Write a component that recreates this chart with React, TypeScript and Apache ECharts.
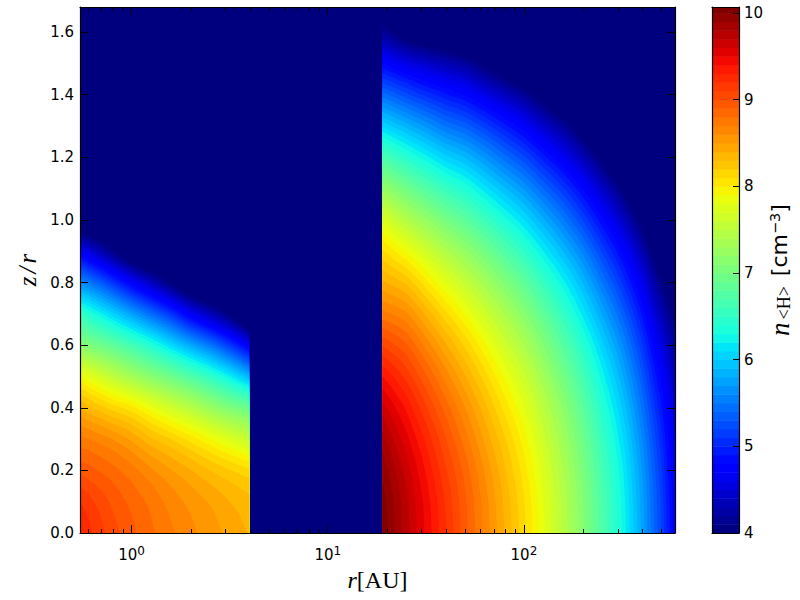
import React, { useEffect, useRef } from "react";
import * as echarts from "echarts";

// Band lower limits of log10 n<H>
const levels = [
  4.0, 4.1, 4.2, 4.3, 4.4, 4.5, 4.6, 4.7, 4.8, 4.9, 5.0, 5.1, 5.2, 5.3, 5.4, 5.5, 5.6, 5.7, 5.8, 5.9,
  6.0, 6.1, 6.2, 6.3, 6.4, 6.5, 6.6, 6.7, 6.8, 6.9, 7.0, 7.1, 7.2, 7.3, 7.4, 7.5, 7.6, 7.7, 7.8, 7.9,
  8.0, 8.1, 8.2, 8.3, 8.4, 8.5, 8.6, 8.7, 8.8, 8.9, 9.0, 9.1, 9.2, 9.3, 9.4, 9.5, 9.6, 9.7, 9.8, 9.9, 10.0,
];
const levelTop = 10.07;

// Inner disc: r [AU] columns, z/r rows, log10 n per column
const innerR = [0.546, 0.631, 0.794, 1, 1.259, 1.585, 1.995, 2.512, 3.162, 3.98];
const innerZ = [0, 0.1, 0.2, 0.3, 0.4, 0.5, 0.6, 0.7, 0.8, 0.9, 1.0];
const innerN = [
  [9.3, 9.2, 8.97, 8.73, 8.4, 7.9, 7.15, 6.52, 5.62, 4.7, 3.7],
  [9.2, 9.11, 8.92, 8.69, 8.3, 7.76, 7.02, 6.34, 5.45, 4.46, 3.5],
  [9.05, 8.98, 8.84, 8.6, 8.16, 7.55, 6.84, 6.06, 5.12, 4.1, 3.5],
  [8.93, 8.87, 8.74, 8.48, 8.04, 7.34, 6.63, 5.75, 4.73, 3.74, 3.5],
  [8.82, 8.77, 8.62, 8.32, 7.85, 7.14, 6.39, 5.43, 4.39, 3.5, 3.5],
  [8.72, 8.66, 8.51, 8.2, 7.66, 6.95, 6.1, 5.1, 4.03, 3.5, 3.5],
  [8.63, 8.57, 8.41, 8.06, 7.48, 6.73, 5.8, 4.69, 3.7, 3.5, 3.5],
  [8.55, 8.49, 8.3, 7.91, 7.27, 6.5, 5.5, 4.35, 3.5, 3.5, 3.5],
  [8.47, 8.4, 8.21, 7.75, 7.07, 6.22, 5.13, 4.02, 3.5, 3.5, 3.5],
  [8.39, 8.33, 8.13, 7.58, 6.93, 5.87, 4.67, 3.6, 3.5, 3.5, 3.5],
];

// Outer disc
const outerR = [19, 25.1, 31.6, 39.8, 50.1, 63.1, 79.4, 100, 126, 158, 200, 251, 316, 398, 501, 589];
const outerZ = [0, 0.1, 0.2, 0.3, 0.4, 0.5, 0.6, 0.7, 0.8, 0.9, 1.0, 1.1, 1.2, 1.3, 1.4, 1.5, 1.6, 1.68];
const outerN = [
  [10.08, 10.05, 9.97, 9.84, 9.65, 9.4, 9.09, 8.74, 8.42, 8.12, 7.75, 7.25, 6.7, 6.08, 5.45, 4.8, 4.2, 3.75],
  [9.75, 9.73, 9.66, 9.54, 9.38, 9.17, 8.92, 8.62, 8.28, 7.89, 7.45, 6.97, 6.44, 5.86, 5.24, 4.58, 3.9, 3.5],
  [9.48, 9.46, 9.39, 9.28, 9.12, 8.92, 8.67, 8.38, 8.04, 7.66, 7.23, 6.76, 6.24, 5.68, 5.07, 4.44, 3.78, 3.5],
  [9.21, 9.19, 9.12, 9.01, 8.86, 8.66, 8.42, 8.13, 7.8, 7.43, 7.01, 6.55, 6.04, 5.49, 4.92, 4.32, 3.68, 3.5],
  [8.94, 8.92, 8.86, 8.75, 8.6, 8.41, 8.18, 7.9, 7.58, 7.22, 6.82, 6.38, 5.89, 5.36, 4.79, 4.2, 3.56, 3.5],
  [8.67, 8.65, 8.59, 8.48, 8.34, 8.15, 7.92, 7.65, 7.34, 6.99, 6.59, 6.15, 5.68, 5.16, 4.59, 3.99, 3.5, 3.5],
  [8.4, 8.38, 8.32, 8.22, 8.07, 7.89, 7.66, 7.4, 7.09, 6.74, 6.35, 5.92, 5.45, 4.94, 4.38, 3.79, 3.5, 3.5],
  [8.13, 8.11, 8.05, 7.95, 7.81, 7.63, 7.4, 7.14, 6.84, 6.49, 6.11, 5.69, 5.22, 4.72, 4.17, 3.59, 3.5, 3.5],
  [7.82, 7.8, 7.74, 7.64, 7.5, 7.32, 7.1, 6.84, 6.54, 6.2, 5.82, 5.4, 4.94, 4.44, 3.9, 3.5, 3.5, 3.5],
  [7.49, 7.47, 7.41, 7.31, 7.18, 7.0, 6.78, 6.53, 6.24, 5.9, 5.53, 5.12, 4.67, 4.18, 3.65, 3.5, 3.5, 3.5],
  [7.12, 7.1, 7.04, 6.95, 6.81, 6.64, 6.43, 6.17, 5.89, 5.56, 5.19, 4.79, 4.34, 3.86, 3.5, 3.5, 3.5, 3.5],
  [6.72, 6.7, 6.64, 6.55, 6.42, 6.25, 6.04, 5.79, 5.5, 5.18, 4.82, 4.42, 3.98, 3.5, 3.5, 3.5, 3.5, 3.5],
  [6.3, 6.28, 6.23, 6.13, 6.0, 5.83, 5.63, 5.38, 5.1, 4.79, 4.43, 4.04, 3.61, 3.5, 3.5, 3.5, 3.5, 3.5],
  [5.78, 5.76, 5.71, 5.62, 5.49, 5.33, 5.13, 4.9, 4.63, 4.32, 3.98, 3.6, 3.5, 3.5, 3.5, 3.5, 3.5, 3.5],
  [5.2, 5.18, 5.13, 5.04, 4.92, 4.76, 4.57, 4.34, 4.08, 3.78, 3.5, 3.5, 3.5, 3.5, 3.5, 3.5, 3.5, 3.5],
  [4.72, 4.71, 4.66, 4.59, 4.49, 4.36, 4.2, 4.01, 3.79, 3.5, 3.5, 3.5, 3.5, 3.5, 3.5, 3.5, 3.5, 3.5],
];

const minorTicksR = [0.6, 0.7, 0.8, 0.9, 2, 3, 4, 5, 6, 7, 8, 9, 20, 30, 40, 50, 60, 70, 80, 90, 200, 300, 400, 500];

const regions = [
  { rs: innerR, zs: innerZ, ns: innerN },
  { rs: outerR, zs: outerZ, ns: outerN },
];

function ramp(t: number, pts: number[][]) {
  if (t <= pts[0][0]) return pts[0][1];
  for (let i = 1; i < pts.length; i++) {
    if (t <= pts[i][0]) {
      const a = pts[i - 1];
      const b = pts[i];
      return a[1] + ((b[1] - a[1]) * (t - a[0])) / (b[0] - a[0]);
    }
  }
  return pts[pts.length - 1][1];
}
const jetR = [[0, 0], [0.35, 0], [0.66, 1], [0.89, 1], [1, 0.5]];
const jetG = [[0, 0], [0.125, 0], [0.375, 1], [0.64, 1], [0.91, 0], [1, 0]];
const jetB = [[0, 0.5], [0.11, 1], [0.34, 1], [0.65, 0], [1, 0]];
function jet(level: number) {
  const t = (level - 4) / 6;
  const c = (p: number[][]) => Math.round(255 * ramp(t, p));
  return `rgb(${c(jetR)},${c(jetG)},${c(jetB)})`;
}

// Contouring: the surface between the matrix nodes is a bicubic patch, cut into small triangles.
const SUB = 3;
type V = [number, number, number];
function cubic(a: number, b: number, c: number, d: number, t: number) {
  return b + 0.5 * t * (c - a + t * (2 * a - 5 * b + 4 * c - d + t * (3 * (b - c) + d - a)));
}
function at(ns: number[][], i: number, j: number) {
  const I = ns.length - 1;
  const J = ns[0].length - 1;
  if (i < 0) return 2 * at(ns, 0, j) - at(ns, 1, j);
  if (i > I) return 2 * at(ns, I, j) - at(ns, I - 1, j);
  if (j < 0) return 2 * ns[i][0] - ns[i][1];
  if (j > J) return 2 * ns[i][J] - ns[i][J - 1];
  return ns[i][j];
}
function surface(ns: number[][], i: number, ti: number, j: number, tj: number) {
  const row = (jj: number) =>
    cubic(at(ns, i - 1, jj), at(ns, i, jj), at(ns, i + 1, jj), at(ns, i + 2, jj), ti);
  return cubic(row(j - 1), row(j), row(j + 1), row(j + 2), tj);
}
function meshes(api: any) {
  return regions.map(({ rs, zs, ns }) => {
    const out: V[][] = [];
    const nx = (rs.length - 1) * SUB + 1;
    const ny = (zs.length - 1) * SUB + 1;
    for (let a = 0; a < nx; a++) {
      const i = Math.min(Math.floor(a / SUB), rs.length - 2);
      const ti = a / SUB - i;
      const u = Math.log10(rs[i]) + (Math.log10(rs[i + 1]) - Math.log10(rs[i])) * ti;
      const col: V[] = [];
      for (let b = 0; b < ny; b++) {
        const j = Math.min(Math.floor(b / SUB), zs.length - 2);
        const tj = b / SUB - j;
        const p = api.coord([Math.pow(10, u), zs[j] + (zs[j + 1] - zs[j]) * tj]);
        col.push([p[0], p[1], surface(ns, i, ti, j, tj)]);
      }
      out.push(col);
    }
    return out;
  });
}

function clipAbove(poly: V[], limit: number): V[] {
  const out: V[] = [];
  for (let i = 0; i < poly.length; i++) {
    const a = poly[i];
    const b = poly[(i + 1) % poly.length];
    const ina = a[2] >= limit;
    const inb = b[2] >= limit;
    if (ina) out.push(a);
    if (ina !== inb) {
      const s = (limit - a[2]) / (b[2] - a[2]);
      out.push([a[0] + (b[0] - a[0]) * s, a[1] + (b[1] - a[1]) * s, limit]);
    }
  }
  return out;
}

let cache: V[][][] | null = null;
function renderBand(params: any, api: any) {
  const lo = levels[params.dataIndex];
  if (!cache) cache = meshes(api);
  let d = "";
  let x0 = Infinity;
  let y0 = Infinity;
  let x1 = -Infinity;
  let y1 = -Infinity;
  for (const vtx of cache) {
    for (let i = 0; i + 1 < vtx.length; i++) {
      for (let j = 0; j + 1 < vtx[i].length; j++) {
        const a = vtx[i][j];
        const b = vtx[i + 1][j];
        const c = vtx[i + 1][j + 1];
        const e = vtx[i][j + 1];
        for (const tri of [[a, b, c], [a, c, e]] as V[][]) {
          const poly = clipAbove(tri, lo);
          if (poly.length < 3) continue;
          poly.forEach((v, k) => {
            d += `${k ? "L" : "M"}${v[0].toFixed(2)} ${v[1].toFixed(2)}`;
            x0 = Math.min(x0, v[0]);
            y0 = Math.min(y0, v[1]);
            x1 = Math.max(x1, v[0]);
            y1 = Math.max(y1, v[1]);
          });
          d += "Z";
        }
      }
    }
  }
  if (!d) return null;
  return {
    type: "path",
    shape: { pathData: d, layout: "cover", x: x0, y: y0, width: x1 - x0, height: y1 - y0 },
    style: { fill: jet(lo) },
    silent: true,
  };
}

function renderColorBand(params: any, api: any) {
  const idx = params.dataIndex;
  const lo = levels[idx];
  const hi = idx + 1 < levels.length ? levels[idx + 1] : levelTop;
  const p0 = api.coord([0, hi]);
  const p1 = api.coord([1, lo]);
  return {
    type: "rect",
    shape: { x: p0[0], y: p0[1], width: p1[0] - p0[0], height: p1[1] - p0[1] + 0.5 },
    style: { fill: jet(lo) },
    silent: true,
  };
}

function renderMinorTick(params: any, api: any) {
  const r = minorTicksR[params.dataIndex];
  const b = api.coord([r, 0]);
  const t = api.coord([r, 1.68]);
  const st = { stroke: "#000", lineWidth: 1 };
  const x = Math.round(b[0]) + 0.5;
  return {
    type: "group",
    children: [
      { type: "line", shape: { x1: x, y1: b[1], x2: x, y2: b[1] - 4 }, style: st, silent: true },
      { type: "line", shape: { x1: x, y1: t[1], x2: x, y2: t[1] + 4 }, style: st, silent: true },
    ],
  };
}

const tickFont = { fontFamily: "DejaVu Sans", fontSize: 15, color: "#000" };
const serif = "Liberation Serif";
const line = { show: true, onZero: false, lineStyle: { color: "#000", width: 1.2 } };

export default function App() {
  const ref = useRef<HTMLDivElement>(null);
  useEffect(() => {
    if (!ref.current) return;
    cache = null;
    const chart = echarts.init(ref.current, undefined, { renderer: "svg" });
    const logAxisBase = {
      type: "log",
      logBase: 10,
      gridIndex: 0,
      min: 0.546,
      max: 589,
      splitLine: { show: false },
      minorTick: { show: false },
      axisLine: line,
      axisTick: { show: true, inside: true, length: 8, lineStyle: { color: "#000", width: 1 }, customValues: [1, 10, 100] },
      z: 10,
    };
    const linAxisBase = {
      type: "value",
      gridIndex: 0,
      min: 0,
      max: 1.68,
      interval: 0.2,
      splitLine: { show: false },
      axisLine: line,
      axisTick: { show: true, inside: true, length: 8, lineStyle: { color: "#000", width: 1 } },
      z: 10,
    };
    const unitAxis = {
      type: "value",
      gridIndex: 1,
      min: 0,
      max: 1,
      splitLine: { show: false },
      axisLine: line,
      axisTick: { show: false },
      axisLabel: { show: false },
      z: 10,
    };
    chart.setOption({
      animation: false,
      backgroundColor: "#fff",
      grid: [
        { left: 80, top: 7, width: 595, height: 526, show: true, backgroundColor: "rgb(0,0,127)", borderWidth: 0, outerBoundsMode: "none" },
        { left: 712, top: 7, width: 27, height: 526, outerBoundsMode: "none" },
      ],
      xAxis: [
        {
          ...logAxisBase,
          position: "bottom",
          name: "{i|r}{n|[AU]}",
          nameLocation: "middle",
          nameGap: 35,
          nameMoveOverlap: false,
          nameTextStyle: {
            rich: {
              i: { fontFamily: serif, fontStyle: "italic", fontSize: 24, color: "#000" },
              n: { fontFamily: serif, fontSize: 24, color: "#000" },
            },
          },
          axisLabel: {
            margin: 12,
            customValues: [1, 10, 100],
            showMinLabel: true,
            showMaxLabel: true,
            formatter: (v: number) => `{a|10}{b|${Math.round(Math.log10(v))}}`,
            rich: {
              a: { ...tickFont },
              b: { ...tickFont, fontSize: 12, padding: [0, 0, 8, 0] },
            },
          },
        },
        { ...logAxisBase, position: "top", axisLabel: { show: false } },
        { ...unitAxis, position: "bottom" },
        { ...unitAxis, position: "top" },
      ],
      yAxis: [
        {
          ...linAxisBase,
          position: "left",
          name: "{z|z}{z|/}{i|r}",
          nameLocation: "middle",
          nameGap: 40,
          nameMoveOverlap: false,
          nameTextStyle: {
            rich: {
              z: { fontFamily: serif, fontStyle: "italic", fontSize: 25, color: "#000", padding: [0, 3, 0, 0] },
              i: { fontFamily: serif, fontStyle: "italic", fontSize: 25, color: "#000" },
            },
          },
          axisLabel: {
            ...tickFont,
            margin: 6,
            showMaxLabel: false,
            formatter: (v: number) => v.toFixed(1),
          },
        },
        { ...linAxisBase, position: "right", axisLabel: { show: false } },
        {
          type: "value",
          gridIndex: 1,
          position: "right",
          min: 4,
          max: levelTop,
          interval: 1,
          splitLine: { show: false },
          axisLine: line,
          axisTick: { show: true, inside: true, length: 6, lineStyle: { color: "#000", width: 1 } },
          axisLabel: { ...tickFont, margin: 5, showMaxLabel: false, formatter: (v: number) => String(v) },
          name: "{n|n}{s|<H>}{u|[cm}{p|−3}{u|]}",
          nameLocation: "middle",
          nameRotate: 90,
          nameGap: 27,
          nameMoveOverlap: false,
          nameTextStyle: {
            rich: {
              n: { fontFamily: serif, fontStyle: "italic", fontSize: 27, color: "#000", padding: [0, 1, 0, 0] },
              s: { fontFamily: serif, fontSize: 18, color: "#000", padding: [8, 10, 0, 2] },
              u: { fontFamily: "DejaVu Sans", fontSize: 22, color: "#000" },
              p: { fontFamily: "DejaVu Sans", fontSize: 14.5, color: "#000", padding: [0, 0, 10, 0] },
            },
          },
          z: 10,
        },
        {
          type: "value",
          gridIndex: 1,
          position: "left",
          min: 4,
          max: levelTop,
          splitLine: { show: false },
          axisLine: line,
          axisTick: { show: false },
          axisLabel: { show: false },
          z: 10,
        },
      ],
      series: [
        {
          type: "custom",
          coordinateSystem: "cartesian2d",
          xAxisIndex: 0,
          yAxisIndex: 0,
          clip: true,
          silent: true,
          renderItem: renderBand,
          data: levels.map((l) => [1, l / 10]),
          z: 2,
        },
        {
          type: "custom",
          coordinateSystem: "cartesian2d",
          xAxisIndex: 2,
          yAxisIndex: 2,
          silent: true,
          clip: true,
          renderItem: renderColorBand,
          data: levels.map((l) => [0.5, l]),
          z: 2,
        },
        {
          type: "custom",
          coordinateSystem: "cartesian2d",
          xAxisIndex: 0,
          yAxisIndex: 0,
          silent: true,
          renderItem: renderMinorTick,
          data: minorTicksR.map((r) => [r, 0]),
          z: 11,
        },
      ],
    });
    return () => chart.dispose();
  }, []);
  return (
    <div
      ref={ref}
      style={{ position: "absolute", left: 0, top: 0, width: 800, height: 600, background: "#fff" }}
    />
  );
}
